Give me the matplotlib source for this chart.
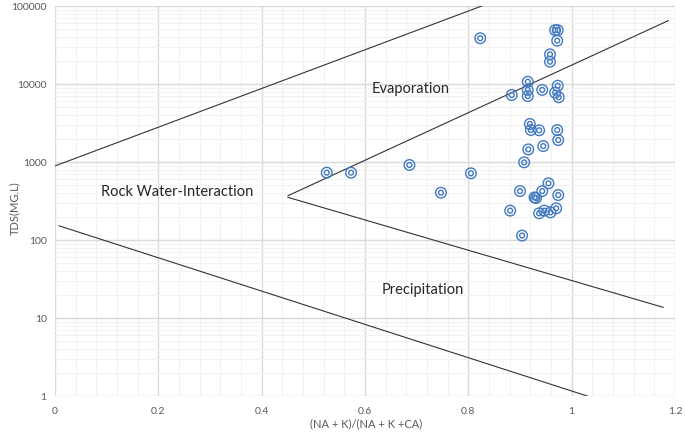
import matplotlib
matplotlib.use("Agg")
import matplotlib.pyplot as plt
from matplotlib.ticker import FixedLocator, FixedFormatter, NullFormatter

plt.rcParams['font.family'] = ['Lato', 'DejaVu Sans']

# Sample data: ratio (Na+K)/(Na+K+Ca) and TDS (mg/L)
ratio = [0.823, 0.968, 0.973, 0.972, 0.958, 0.958, 0.915, 0.973, 0.915, 0.943,
         0.968, 0.884, 0.915, 0.975, 0.919, 0.921, 0.937, 0.972, 0.974, 0.945,
         0.916, 0.908, 0.805, 0.955, 0.900, 0.943, 0.928, 0.931, 0.974, 0.881,
         0.937, 0.947, 0.959, 0.970, 0.904, 0.526, 0.573, 0.686, 0.747]
tds = [38600, 49000, 49000, 35900, 24000, 19300, 10700, 9500, 8400, 8400,
       7750, 7230, 7000, 6760, 3070, 2570, 2550, 2570, 1910, 1600,
       1450, 990, 716, 533, 424, 424, 352, 345, 377, 238,
       220, 238, 226, 255, 114, 730, 730, 916, 404]

# Gibbs boundary lines (x, y)
line1_x = [0.0, 0.826]
line1_y = [890, 100000]
line2_x = [0.451, 1.187]
line2_y = [370, 64900]
line3_x = [0.451, 1.177]
line3_y = [352, 13.7]
line4_x = [0.008, 1.03]
line4_y = [152, 1.0]

labels = ["Evaporation", "Rock Water-Interaction", "Precipitation"]
label_x = [0.689, 0.236, 0.712]
label_y = [8630, 412, 22.9]

xticks = [0, 0.2, 0.4, 0.6, 0.8, 1.0, 1.2]
xticklabels = ["0", "0.2", "0.4", "0.6", "0.8", "1", "1.2"]
yticks = [1, 10, 100, 1000, 10000, 100000]
yticklabels = ["1", "10", "100", "1000", "10000", "100000"]

W, H = 685, 434
fig = plt.figure(figsize=(W / 100, H / 100), dpi=100)
ax = fig.add_axes([55 / W, (H - 396) / H, (675 - 55) / W, (396 - 6) / H])

ax.set_yscale('log')
ax.set_xlim(0, 1.2)
ax.set_ylim(1, 100000)

# grid
ax.xaxis.set_major_locator(FixedLocator(xticks))
ax.xaxis.set_major_formatter(FixedFormatter(xticklabels))
ax.xaxis.set_minor_locator(FixedLocator([i * 0.04 for i in range(31)]))
ax.yaxis.set_major_locator(FixedLocator(yticks))
ax.yaxis.set_major_formatter(FixedFormatter(yticklabels))
minor_y = [m * 10 ** e for e in range(0, 5) for m in range(2, 10)]
ax.yaxis.set_minor_locator(FixedLocator(minor_y))
ax.yaxis.set_minor_formatter(NullFormatter())
ax.grid(which='minor', color='#f2f2f2', linewidth=0.8, zorder=0)
ax.grid(which='major', color='#d9d9d9', linewidth=1.0, zorder=0)
ax.set_axisbelow(True)
ax.tick_params(which='both', length=0)
ax.tick_params(axis='both', labelsize=7.5, labelcolor='#595959')
ax.tick_params(axis='x', pad=8)
ax.tick_params(axis='y', pad=6)
for s in ax.spines.values():
    s.set_visible(False)

# lines
for lx, ly in [(line1_x, line1_y), (line2_x, line2_y), (line3_x, line3_y), (line4_x, line4_y)]:
    ax.plot(lx, ly, color='#333333', linewidth=0.8, zorder=2)

# markers: double circles
blue = '#4279c0'
ax.scatter(ratio, tds, s=58, facecolors='none', edgecolors=blue, linewidths=1.0, zorder=3)
ax.scatter(ratio, tds, s=12, facecolors='none', edgecolors=blue, linewidths=1.0, zorder=3)

for t, x, y in zip(labels, label_x, label_y):
    ax.text(x, y, t, ha='center', va='center', fontsize=10.5, color='#262626', zorder=4)

fig.text(366 / W, 1 - 424 / H, "(NA + K)/(NA + K +CA)", fontsize=8, color='#595959',
         ha='center', va='center')
fig.text(15 / W, 1 - 208 / H, "TDS(MG.L)", fontsize=8, color='#595959',
         ha='center', va='center', rotation=90)

fig.savefig("out.png", dpi=100)
